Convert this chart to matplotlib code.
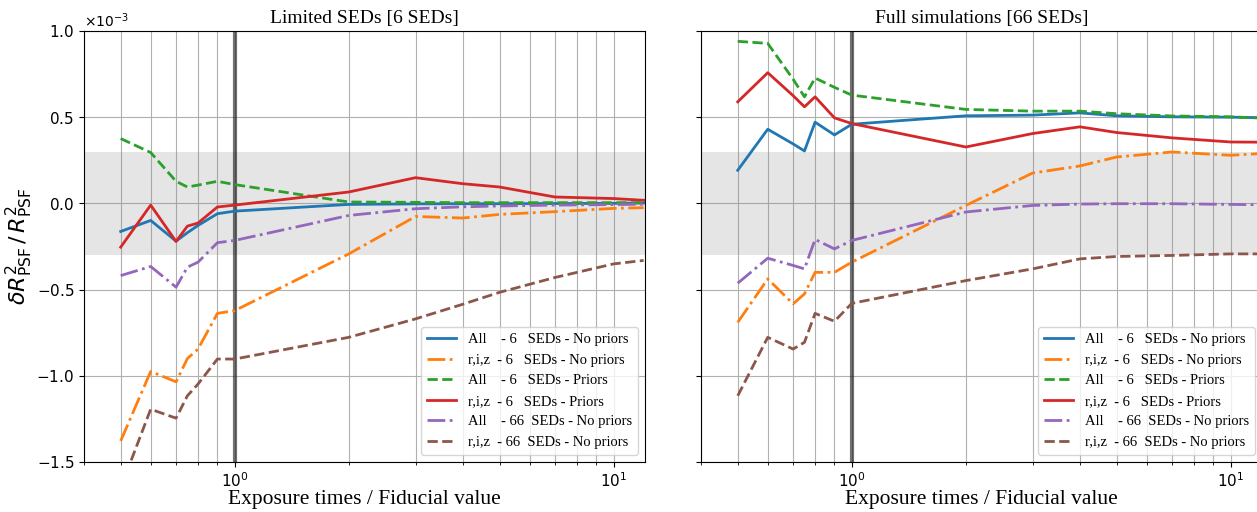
import numpy as np
import matplotlib
matplotlib.use("Agg")
import matplotlib.pyplot as plt
from matplotlib import ticker

# exposure times relative to the fiducial value
exp_times = [0.5, 0.6, 0.7, 0.75, 0.8, 0.9, 1.0, 2.0, 3.0, 4.0, 5.0, 7.0, 10.0, 12.0]

# relative R^2 errors, in units of 1e-3
# left panel : limited SEDs
lim_all_6_np = [-0.163, -0.099, -0.219, -0.17, -0.128, -0.06, -0.045, -0.006, -0.003, -0.002, -0.002, -0.001, 0.0, 0.002]
lim_riz_6_np = [-1.378, -0.975, -1.035, -0.90, -0.845, -0.638, -0.622, -0.293, -0.076, -0.085, -0.064, -0.048, -0.029, -0.025]
lim_all_6_p = [0.376, 0.295, 0.128, 0.095, 0.106, 0.128, 0.109, 0.008, 0.006, 0.004, 0.004, 0.004, 0.004, 0.004]
lim_riz_6_p = [-0.254, -0.01, -0.221, -0.132, -0.114, -0.021, -0.01, 0.066, 0.149, 0.114, 0.095, 0.037, 0.028, 0.018]
lim_all_66_np = [-0.419, -0.366, -0.486, -0.37, -0.341, -0.228, -0.215, -0.07, -0.031, -0.02, -0.015, -0.01, -0.007, -0.005]
lim_riz_66_np = [-1.65, -1.194, -1.246, -1.116, -1.048, -0.903, -0.903, -0.777, -0.67, -0.585, -0.516, -0.43, -0.351, -0.331]

# right panel : full simulations
full_all_6_np = [0.192, 0.43, 0.345, 0.304, 0.471, 0.397, 0.459, 0.508, 0.512, 0.525, 0.508, 0.502, 0.5, 0.497]
full_riz_6_np = [-0.69, -0.438, -0.583, -0.525, -0.4, -0.4, -0.341, -0.012, 0.176, 0.217, 0.269, 0.298, 0.279, 0.289]
full_all_6_p = [0.94, 0.928, 0.72, 0.618, 0.727, 0.673, 0.628, 0.545, 0.535, 0.535, 0.52, 0.507, 0.502, 0.495]
full_riz_6_p = [0.589, 0.758, 0.625, 0.56, 0.618, 0.496, 0.463, 0.327, 0.405, 0.444, 0.411, 0.38, 0.356, 0.355]
full_all_66_np = [-0.463, -0.318, -0.36, -0.38, -0.209, -0.264, -0.215, -0.05, -0.012, -0.004, -0.002, -0.002, -0.006, -0.008]
full_riz_66_np = [-1.116, -0.777, -0.845, -0.806, -0.638, -0.684, -0.58, -0.448, -0.38, -0.322, -0.308, -0.302, -0.293, -0.293]

labels = ['All    - 6   SEDs - No priors',
          'r,i,z  - 6   SEDs - No priors',
          'All    - 6   SEDs - Priors',
          'r,i,z  - 6   SEDs - Priors',
          'All    - 66  SEDs - No priors',
          'r,i,z  - 66  SEDs - No priors']
styles = ['-', '-.', '--', '-', '-.', '--']
colors = ['C0', 'C1', 'C2', 'C3', 'C4', 'C5']

serif = 'Liberation Serif'

fig = plt.figure(figsize=(12.57, 5.12), dpi=100)
ax1 = fig.add_axes([0.0668, 0.0977, 0.4463, 0.8418])
ax2 = fig.add_axes([0.5577, 0.0977, 0.4463, 0.8418], sharey=ax1)

panels = [
    (ax1, 'Limited SEDs [6 SEDs]',
     [lim_all_6_np, lim_riz_6_np, lim_all_6_p, lim_riz_6_p, lim_all_66_np, lim_riz_66_np]),
    (ax2, 'Full simulations [66 SEDs]',
     [full_all_6_np, full_riz_6_np, full_all_6_p, full_riz_6_p, full_all_66_np, full_riz_66_np]),
]

for ax, title, series in panels:
    # requirement band and fiducial exposure line
    ax.axhspan(-0.3e-3, 0.3e-3, color='gray', alpha=0.2, lw=0)
    ax.axvline(1.0, color='k', alpha=0.55, lw=3)
    for vals, lab, ls, c in zip(series, labels, styles, colors):
        ax.plot(exp_times, np.array(vals) * 1e-3, ls=ls, color=c, lw=2, label=lab)
    ax.set_xscale('log')
    ax.set_xlim(0.4, 12.1)
    ax.set_ylim(-1.5e-3, 1.0e-3)
    ax.grid(True, which='both', color='#b0b0b0', lw=0.8)
    ax.set_axisbelow(True)
    ax.tick_params(labelsize=11)
    ax.set_title(title, fontsize=14, family=serif)
    ax.set_xlabel('Exposure times / Fiducial value', fontsize=15.5, family=serif, labelpad=0)
    ax.legend(loc='lower right', prop={'family': serif, 'size': 10.5})

# y axis in units of 1e-3 with the offset shown on top
fmt = ticker.ScalarFormatter(useMathText=True)
fmt.set_powerlimits((0, 0))
ax1.yaxis.set_major_formatter(fmt)
ax1.yaxis.set_major_locator(ticker.MultipleLocator(0.5e-3))
ax1.yaxis.get_offset_text().set_fontsize(10)
ax1.set_ylabel(r'$\delta R^2_{\rm PSF}\,/\,R^2_{\rm PSF}$', fontsize=16, labelpad=1)
plt.setp(ax2.get_yticklabels(), visible=False)
ax2.yaxis.get_offset_text().set_visible(False)

plt.savefig('out.png', dpi=100)
